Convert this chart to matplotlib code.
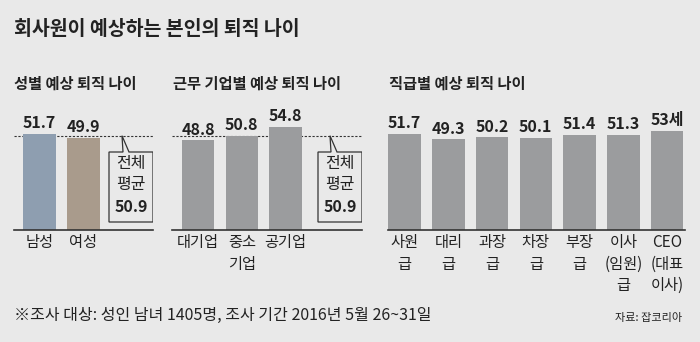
import matplotlib.pyplot as plt
from matplotlib.patches import Polygon

plt.rcParams['font.family'] = ['Noto Sans CJK KR', 'DejaVu Sans']

# 예상 퇴직 나이 (세)
gender = ['남성', '여성']
gender_age = [51.7, 49.9]
company = ['대기업', '중소\n기업', '공기업']
company_age = [48.8, 50.8, 54.8]
rank = ['사원\n급', '대리\n급', '과장\n급', '차장\n급', '부장\n급', '이사\n(임원)\n급', 'CEO\n(대표\n이사)']
rank_age = [51.7, 49.3, 50.2, 50.1, 51.4, 51.3, 53]
overall_avg = 50.9

BG = '#e9e9e9'
INK = '#222222'
GREY = '#9b9c9e'

W, H = 700, 342
BASE = 230          # baseline, px from top
TOP = 100
Y0 = 9              # value at the baseline
PX_PER_YEAR = 2.25
STEP = 43.75        # px between bar centres

fig = plt.figure(figsize=(W / 100, H / 100), dpi=100, facecolor=BG)


def py2v(py):
    return Y0 + (BASE - py) / PX_PER_YEAR


def panel(left, right, first, labels, values, colors, value_labels):
    ax = fig.add_axes([left / W, 1 - BASE / H, (right - left) / W, (BASE - TOP) / H])
    ax.set_facecolor('none')
    x = list(range(len(values)))
    ax.bar(x, values, width=32.5 / STEP, color=colors, zorder=2)
    ax.set_xlim(-(first - left) / STEP, (right - first) / STEP)
    ax.set_ylim(Y0, py2v(TOP))
    for xi, v, lab in zip(x, values, value_labels):
        ax.annotate(lab, (xi, v), xytext=(0, 2), textcoords='offset points',
                    ha='center', va='bottom', fontsize=11.5, fontweight='bold',
                    color=INK)
    ax.set_xticks(x, labels)
    ax.tick_params(axis='x', length=0, pad=3, labelsize=11, labelcolor=INK)
    for t in ax.get_xticklabels():
        t.set_linespacing(1.35)
    ax.set_yticks([])
    for s in ['top', 'left', 'right']:
        ax.spines[s].set_visible(False)
    ax.spines['bottom'].set_color('#333333')
    ax.spines['bottom'].set_linewidth(1.2)
    return ax


def avg_bubble(ax, first, x0, x1, apex, leg0, leg1):
    # speech-bubble box hanging from the dashed average line
    cx = lambda p: (p - first) / STEP
    top, bot = py2v(152), py2v(222)
    pts = [(cx(x0), top), (cx(leg0), top), (cx(apex), overall_avg),
           (cx(leg1), top), (cx(x1), top), (cx(x1), bot), (cx(x0), bot)]
    ax.add_patch(Polygon(pts, closed=True, facecolor=BG, edgecolor='#333333',
                         lw=0.9, zorder=3))
    mid = cx((x0 + x1) / 2)
    ax.text(mid, py2v(174), '전체\n평균', ha='center', va='center', fontsize=11.5,
            color=INK, linespacing=1.3, zorder=4)
    ax.text(mid, py2v(207), f'{overall_avg}', ha='center', va='center',
            fontsize=11.5, fontweight='bold', color=INK, zorder=4)


def avg_line(ax):
    ax.axhline(overall_avg, color='#333333', lw=0.8, ls=(0, (2, 1.5)), zorder=1)


fmt = lambda vals: [f'{v:.1f}' for v in vals]

ax1 = panel(14, 153, 39.5, gender, gender_age, ['#8e9eb0', '#a99b8c'], fmt(gender_age))
avg_line(ax1)
avg_bubble(ax1, 39.5, 109, 153, 122, 123, 129)

ax2 = panel(172, 362, 198, company, company_age, GREY, fmt(company_age))
avg_line(ax2)
avg_bubble(ax2, 198, 318, 362, 330, 331, 337)

rank_labels = fmt(rank_age[:-1]) + [f'{rank_age[-1]:g}세']
ax3 = panel(388, 685, 404.5, rank, rank_age, GREY, rank_labels)

fig.text(14 / W, 1 - 29.5 / H, '회사원이 예상하는 본인의 퇴직 나이', fontsize=14,
         fontweight='bold', color=INK, va='center')
for xp, s in [(14, '성별 예상 퇴직 나이'), (173, '근무 기업별 예상 퇴직 나이'),
              (389, '직급별 예상 퇴직 나이')]:
    fig.text(xp / W, 1 - 84 / H, s, fontsize=11, fontweight='bold', color=INK,
             va='center')

fig.text(14 / W, 1 - 315 / H, '※조사 대상: 성인 남녀 1405명, 조사 기간 2016년 5월 26~31일',
         fontsize=11.5, color=INK, va='center')
fig.text(682 / W, 1 - 318 / H, '자료: 잡코리아', fontsize=8, color=INK,
         ha='right', va='center')

fig.savefig('out.png', dpi=100, facecolor=BG)
